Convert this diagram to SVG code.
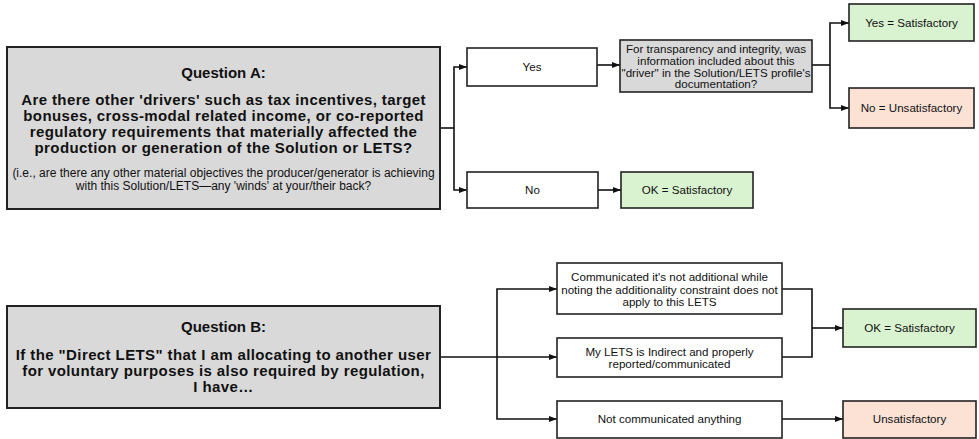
<svg xmlns="http://www.w3.org/2000/svg" width="979" height="439" viewBox="0 0 979 439">
<defs>
<marker id="arr" markerUnits="userSpaceOnUse" markerWidth="8" markerHeight="8" viewBox="0 0 8 8" refX="8" refY="4" orient="auto">
<path d="M0,1 L8,4 L0,7 Z" fill="#111"/>
</marker>
<style>
text{font-family:"Liberation Sans",Arial,sans-serif;fill:#111;text-anchor:middle}
.q{fill:#d9d9d9;stroke:#222;stroke-width:2}
.w{fill:#fff;stroke:#222;stroke-width:1.6}
.g{fill:#d9d9d9;stroke:#222;stroke-width:1.6}
.ok{fill:#d9f2d0;stroke:#222;stroke-width:1.6}
.bad{fill:#fbe2d5;stroke:#222;stroke-width:1.6}
.h{font-size:15px;font-weight:bold}
.b{font-size:15px;font-weight:bold;letter-spacing:0.4px}
.s{font-size:11.6px}
.sm{font-size:12px}
.c path{fill:none;stroke:#111;stroke-width:1.6;marker-end:url(#arr)}
.c path.n{marker-end:none}
</style>
</defs>
<g class="c" id="connectors">
<path class="n" d="M440,128 H454"/>
<path d="M454,128 V67 H467"/>
<path d="M454,128 V190 H467"/>
<path d="M597,65 H620"/>
<path d="M598,190 H621"/>
<path class="n" d="M812,65 H830"/>
<path d="M830,65 V23 H849"/>
<path d="M830,65 V108 H849"/>
<path class="n" d="M440,357 H497"/>
<path d="M497,357 V289 H557"/>
<path d="M497,357 H557"/>
<path d="M497,357 V419 H557"/>
<path class="n" d="M782,289 H812 V357 H782"/>
<path d="M812,328 H843"/>
<path d="M782,419 H843"/>
</g>
<g id="questionA">
<rect class="q" x="7" y="47" width="433" height="162"/>
<text class="h" x="223.5" y="78">Question A:</text>
<text class="b" x="223.5" y="104.5">Are there other 'drivers' such as tax incentives, target</text>
<text class="b" x="223.5" y="120.5">bonuses, cross-modal related income, or co-reported</text>
<text class="b" x="223.5" y="136.5">regulatory requirements that materially affected the</text>
<text class="b" x="223.5" y="152.5">production or generation of the Solution or LETS?</text>
<text class="sm" x="223.5" y="177">(i.e., are there any other material objectives the producer/generator is achieving</text>
<text class="sm" x="223.5" y="190">with this Solution/LETS—any 'winds' at your/their back?</text>
</g>
<g id="yesA">
<rect class="w" x="467" y="48" width="130" height="38"/>
<text class="s" x="532" y="71">Yes</text>
</g>
<g id="noA">
<rect class="w" x="467" y="172" width="131" height="36"/>
<text class="s" x="532.5" y="194">No</text>
</g>
<g id="transparency">
<rect class="g" x="620" y="40" width="192" height="52"/>
<text class="s" x="716" y="53">For transparency and integrity, was</text>
<text class="s" x="716" y="64.8">information included about this</text>
<text class="s" x="716" y="76.6">"driver" in the Solution/LETS profile's</text>
<text class="s" x="716" y="88">documentation?</text>
</g>
<g id="okA">
<rect class="ok" x="621" y="172" width="132" height="36"/>
<text class="s" x="687" y="194">OK = Satisfactory</text>
</g>
<g id="yesSat">
<rect class="ok" x="849" y="4" width="125" height="37"/>
<text class="s" x="911.5" y="26.5">Yes = Satisfactory</text>
</g>
<g id="noUnsat">
<rect class="bad" x="849" y="88" width="125" height="40"/>
<text class="s" x="911.5" y="112">No = Unsatisfactory</text>
</g>
<g id="questionB">
<rect class="q" x="7" y="306" width="433" height="102"/>
<text class="h" x="223.5" y="332">Question B:</text>
<text class="b" x="223.5" y="359.5">If the "Direct LETS" that I am allocating to another user</text>
<text class="b" x="223.5" y="375.5">for voluntary purposes is also required by regulation,</text>
<text class="b" x="223.5" y="391.5">I have…</text>
</g>
<g id="communicated">
<rect class="w" x="557" y="263" width="225" height="51"/>
<text class="s" x="669.5" y="281">Communicated it's not additional while</text>
<text class="s" x="669.5" y="293.5">noting the additionality constraint does not</text>
<text class="s" x="669.5" y="306">apply to this LETS</text>
</g>
<g id="indirect">
<rect class="w" x="557" y="338" width="225" height="39"/>
<text class="s" x="669.5" y="356">My LETS is Indirect and properly</text>
<text class="s" x="669.5" y="367.5">reported/communicated</text>
</g>
<g id="nothing">
<rect class="w" x="557" y="401" width="225" height="37"/>
<text class="s" x="669.5" y="423">Not communicated anything</text>
</g>
<g id="okB">
<rect class="ok" x="843" y="309" width="133" height="38"/>
<text class="s" x="909.5" y="332">OK = Satisfactory</text>
</g>
<g id="unsatB">
<rect class="bad" x="843" y="401" width="133" height="37"/>
<text class="s" x="909.5" y="423">Unsatisfactory</text>
</g>
</svg>
